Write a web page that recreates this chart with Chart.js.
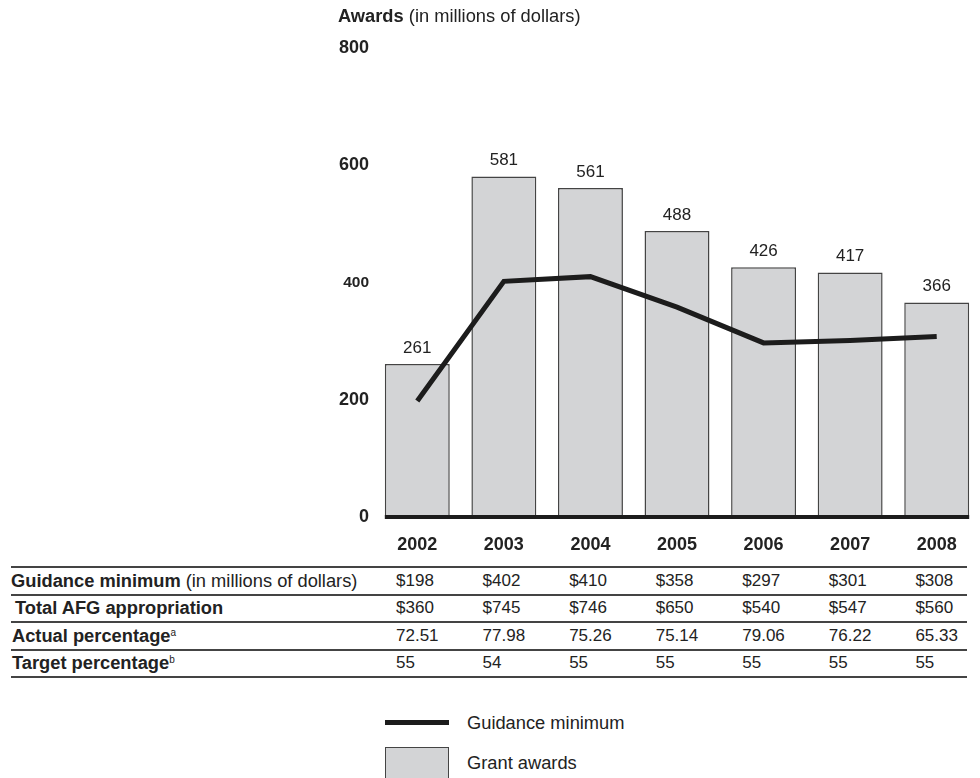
<!DOCTYPE html>
<html>
<head>
<meta charset="utf-8">
<script src="https://cdn.jsdelivr.net/npm/chart.js@4.4.1/dist/chart.umd.min.js"></script>
<style>
    body { margin: 0; background: #fff; font-family: 'Liberation Sans', Arial, sans-serif; color: #222; }
    #wrap { position: relative; width: 980px; height: 778px; overflow: hidden; }
    #awardsChart { position: absolute; left: 0; top: 0; }
    .axis-title { position: absolute; left: 338px; top: 5px; font-size: 18.3px; white-space: nowrap; }
    table.summary { position: absolute; left: 11px; top: 566px; width: 956px; border-collapse: collapse; table-layout: fixed; font-size: 17px; }
    table.summary td { height: 25.5px; padding: 0; border-top: 2px solid #444; border-bottom: 2px solid #444; white-space: nowrap; overflow: visible; }
    table.summary td.label { font-size: 18.3px; }
    table.summary td.val { padding-left: 22px; }
    table.summary sup { font-size: 10px; font-weight: normal; vertical-align: 6px; }
    .legend-line { position: absolute; left: 385px; top: 720px; width: 64px; height: 5px; background: #1c1c1c; }
    .legend-box { position: absolute; left: 385px; top: 747px; width: 62px; height: 50px; background: #d3d4d6; border: 1.5px solid #444; }
    .legend-text { position: absolute; left: 467px; font-size: 18.3px; }
</style>
</head>
<body>
<div id="wrap">
    <canvas id="awardsChart" width="980" height="560"></canvas>
    <div class="axis-title"><b>Awards</b> (in millions of dollars)</div>
    <table class="summary" id="summaryTable"></table>
    <div class="legend-line"></div>
    <div class="legend-text" style="top: 712px;">Guidance minimum</div>
    <div class="legend-box"></div>
    <div class="legend-text" style="top: 752px;">Grant awards</div>
</div>
<script>
const years = ['2002', '2003', '2004', '2005', '2006', '2007', '2008'];
const grantAwards = [261, 581, 561, 488, 426, 417, 366];
const guidanceMinimum = [198, 402, 410, 358, 297, 301, 308];
const totalAppropriation = [360, 745, 746, 650, 540, 547, 560];
const actualPercentage = ['72.51', '77.98', '75.26', '75.14', '79.06', '76.22', '65.33'];
const targetPercentage = [55, 54, 55, 55, 55, 55, 55];
const yTicks = [0, 200, 400, 600, 800];

const fontFamily = "'Liberation Sans', Arial, sans-serif";
const inkColor = '#222';

// value labels above each bar plus the heavy baseline under the bars
const barExtras = {
    id: 'barExtras',
    afterDatasetsDraw(chart) {
        const { ctx } = chart;
        const meta = chart.getDatasetMeta(1);
        const bars = meta.data;
        if (!bars.length) return;

        ctx.save();
        ctx.font = `17px ${fontFamily}`;
        ctx.fillStyle = inkColor;
        ctx.textAlign = 'center';
        ctx.textBaseline = 'middle';
        bars.forEach((bar, i) => {
            ctx.fillText(String(grantAwards[i]), bar.x, bar.y - 16);
        });

        const y0 = chart.scales.y.getPixelForValue(0);
        const first = bars[0];
        const last = bars[bars.length - 1];
        ctx.strokeStyle = '#1c1c1c';
        ctx.lineWidth = 4;
        ctx.beginPath();
        ctx.moveTo(first.x - first.width / 2, y0);
        ctx.lineTo(last.x + last.width / 2, y0);
        ctx.stroke();
        ctx.restore();
    }
};

new Chart(document.getElementById('awardsChart'), {
    type: 'bar',
    data: {
        labels: years,
        datasets: [
            {
                type: 'line',
                label: 'Guidance minimum',
                data: guidanceMinimum,
                borderColor: '#1c1c1c',
                borderWidth: 5,
                borderJoinStyle: 'miter',
                pointRadius: 0,
                tension: 0,
                fill: false,
                order: 0
            },
            {
                type: 'bar',
                label: 'Grant awards',
                data: grantAwards,
                backgroundColor: '#d3d4d6',
                borderColor: '#444',
                borderWidth: 1.5,
                categoryPercentage: 1,
                barPercentage: 0.75,
                order: 1
            }
        ]
    },
    options: {
        responsive: false,
        animation: false,
        layout: { padding: { top: 48, left: 0, right: 0, bottom: 0 } },
        plugins: {
            legend: { display: false },
            tooltip: { enabled: false }
        },
        scales: {
            x: {
                grid: { display: false, drawTicks: false },
                border: { display: false },
                ticks: {
                    color: inkColor,
                    padding: 17,
                    font: { family: fontFamily, size: 18, weight: 'bold' }
                },
                afterFit: (scale) => { scale.height = 43; }
            },
            y: {
                min: 0,
                max: 800,
                grid: { display: false, drawTicks: false },
                border: { display: false },
                afterBuildTicks: (scale) => {
                    scale.ticks = yTicks.map((v) => ({ value: v }));
                },
                ticks: {
                    color: inkColor,
                    padding: 5,
                    font: (ctx) => ({
                        family: fontFamily,
                        weight: 'bold',
                        size: ctx.tick && ctx.tick.value === 400 ? 15.5 : 18
                    })
                },
                afterFit: (scale) => { scale.width = 374; }
            }
        }
    },
    plugins: [barExtras]
});

// summary table under the chart
const rows = [
    { label: '<b>Guidance minimum</b> (in millions of dollars)', indent: 0, values: guidanceMinimum.map((v) => `$${v}`) },
    { label: '<b>Total AFG appropriation</b>', indent: 4, values: totalAppropriation.map((v) => `$${v}`) },
    { label: '<b>Actual percentage<sup>a</sup></b>', indent: 1, values: actualPercentage },
    { label: '<b>Target percentage<sup>b</sup></b>', indent: 1, values: targetPercentage.map(String) }
];

const table = document.getElementById('summaryTable');
let colgroup = '<colgroup><col style="width:363px">';
years.forEach((_, i) => {
    const w = i === years.length - 1 ? 956 - 363 - 86.57 * (years.length - 1) : 86.57;
    colgroup += `<col style="width:${w}px">`;
});
colgroup += '</colgroup>';
table.innerHTML = colgroup + rows.map((row) =>
    `<tr><td class="label" style="padding-left:${row.indent}px">${row.label}</td>` +
    row.values.map((v) => `<td class="val">${v}</td>`).join('') + '</tr>'
).join('');
</script>
</body>
</html>
